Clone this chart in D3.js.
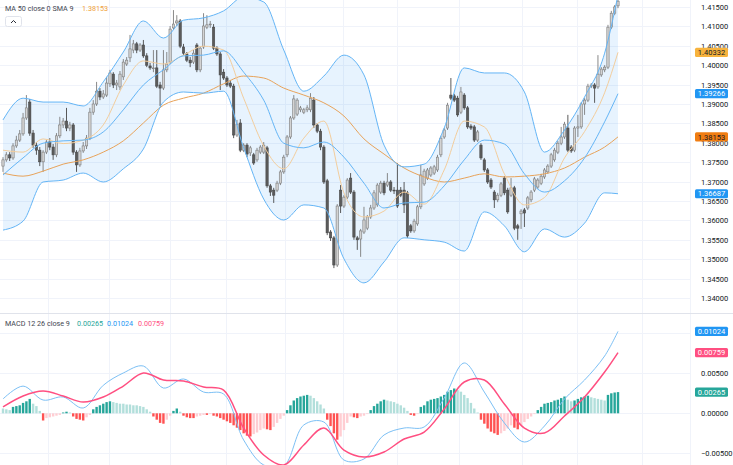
<!DOCTYPE html>
<html>
<head>
<meta charset="utf-8">
<script src="https://cdnjs.cloudflare.com/ajax/libs/d3/7.8.5/d3.min.js"></script>
<style>
body { margin: 0; background: #fff; }
text { font-family: Roboto, "Noto Sans", sans-serif; }
</style>
</head>
<body>
<svg id="chart" width="733" height="465"></svg>
<script>
'use strict';

// candles, oldest first
var opens = [
    1.3740, 1.3756, 1.3769, 1.3761, 1.3792, 1.3807, 1.3823, 1.3864, 1.3905, 1.3825,
    1.3794, 1.3781, 1.3751, 1.3776, 1.3802, 1.3789, 1.3769, 1.3818, 1.3846, 1.3856,
    1.3838, 1.3846, 1.3776, 1.3743, 1.3779, 1.3792, 1.3812, 1.3879, 1.3900, 1.3933,
    1.3918, 1.3923, 1.3952, 1.3977, 1.3949, 1.3944, 1.3970, 1.4003, 1.4019, 1.4039,
    1.4055, 1.4039, 1.4052, 1.4024, 1.3998, 1.3993, 1.3993, 1.3949, 1.3941, 1.3988,
    1.4008, 1.4096, 1.4109, 1.4114, 1.4047, 1.4029, 1.4013, 1.4008, 1.4052, 1.3988,
    1.4047, 1.4098, 1.4104, 1.4098, 1.4044, 1.4029, 1.3982, 1.3967, 1.3954, 1.3946,
    1.3820, 1.3851, 1.3781, 1.3794, 1.3774, 1.3769, 1.3756, 1.3776, 1.3776, 1.3787,
    1.3689, 1.3678, 1.3678, 1.3696, 1.3725, 1.3769, 1.3815, 1.3864, 1.3874, 1.3885,
    1.3879, 1.3885, 1.3885, 1.3910, 1.3846, 1.3830, 1.3789, 1.3702, 1.3570, 1.3555,
    1.3485, 1.3678, 1.3637, 1.3660, 1.3709, 1.3673, 1.3555, 1.3552, 1.3570, 1.3580,
    1.3609, 1.3632, 1.3640, 1.3673, 1.3696, 1.3691, 1.3699, 1.3678, 1.3678, 1.3678,
    1.3678, 1.3671, 1.3586, 1.3573, 1.3591, 1.3635, 1.3694, 1.3709, 1.3717, 1.3722,
    1.3730, 1.3769, 1.3815, 1.3838, 1.3923, 1.3921, 1.3915, 1.3879, 1.3923, 1.3890,
    1.3843, 1.3841, 1.3807, 1.3794, 1.3756, 1.3730, 1.3704, 1.3673, 1.3653, 1.3665,
    1.3709, 1.3678, 1.3665, 1.3684, 1.3586, 1.3617, 1.3627, 1.3632, 1.3653, 1.3678,
    1.3686, 1.3696, 1.3712, 1.3725, 1.3740, 1.3756, 1.3776, 1.3799, 1.3815, 1.3838,
    1.3789, 1.3781, 1.3838, 1.3841, 1.3900, 1.3910, 1.3946, 1.3949, 1.3944, 1.3975,
    1.3988, 1.3995, 1.4098, 1.4134, 1.4153
];
var highs = [
    1.3763, 1.3776, 1.3776, 1.3799, 1.3818, 1.3833, 1.3877, 1.3923, 1.3913, 1.3833,
    1.3802, 1.3789, 1.3781, 1.3807, 1.3812, 1.3797, 1.3825, 1.3867, 1.3864, 1.3890,
    1.3854, 1.3851, 1.3781, 1.3787, 1.3802, 1.3820, 1.3890, 1.3910, 1.3957, 1.3941,
    1.3936, 1.3970, 1.3988, 1.3982, 1.3962, 1.3985, 1.4016, 1.4021, 1.4078, 1.4065,
    1.4060, 1.4057, 1.4065, 1.4031, 1.4006, 1.4039, 1.4039, 1.3957, 1.4039, 1.4034,
    1.4101, 1.4142, 1.4129, 1.4119, 1.4055, 1.4034, 1.4021, 1.4039, 1.4057, 1.4049,
    1.4134, 1.4129, 1.4114, 1.4106, 1.4049, 1.4034, 1.3990, 1.3972, 1.3962, 1.3952,
    1.3859, 1.3861, 1.3799, 1.3799, 1.3792, 1.3774, 1.3787, 1.3794, 1.3802, 1.3792,
    1.3694, 1.3684, 1.3702, 1.3730, 1.3769, 1.3820, 1.3869, 1.3923, 1.3915, 1.3895,
    1.3890, 1.3897, 1.3928, 1.3918, 1.3851, 1.3836, 1.3794, 1.3707, 1.3575, 1.3560,
    1.3642, 1.3691, 1.3665, 1.3709, 1.3722, 1.3678, 1.3560, 1.3578, 1.3635, 1.3614,
    1.3640, 1.3678, 1.3696, 1.3702, 1.3702, 1.3722, 1.3704, 1.3686, 1.3748, 1.3686,
    1.3699, 1.3676, 1.3591, 1.3604, 1.3640, 1.3743, 1.3733, 1.3735, 1.3740, 1.3743,
    1.3769, 1.3818, 1.3838, 1.3903, 1.3967, 1.3926, 1.3921, 1.3944, 1.3928, 1.3895,
    1.3848, 1.3846, 1.3833, 1.3799, 1.3761, 1.3735, 1.3709, 1.3678, 1.3671, 1.3699,
    1.3714, 1.3684, 1.3709, 1.3689, 1.3591, 1.3629, 1.3632, 1.3663, 1.3678, 1.3712,
    1.3709, 1.3720, 1.3735, 1.3745, 1.3774, 1.3787, 1.3805, 1.3841, 1.3854, 1.3872,
    1.3794, 1.3843, 1.3872, 1.3905, 1.3915, 1.3952, 1.3954, 1.3954, 1.4026, 1.3995,
    1.4000, 1.4104, 1.4140, 1.4155, 1.4176
];
var lows = [
    1.3725, 1.3751, 1.3753, 1.3756, 1.3787, 1.3802, 1.3818, 1.3859, 1.3818, 1.3787,
    1.3769, 1.3740, 1.3725, 1.3771, 1.3781, 1.3756, 1.3763, 1.3812, 1.3838, 1.3830,
    1.3830, 1.3769, 1.3725, 1.3738, 1.3774, 1.3784, 1.3807, 1.3872, 1.3895, 1.3910,
    1.3913, 1.3918, 1.3944, 1.3941, 1.3936, 1.3936, 1.3962, 1.3998, 1.4008, 1.4031,
    1.4031, 1.4034, 1.4019, 1.3995, 1.3988, 1.3982, 1.3941, 1.3895, 1.3936, 1.3982,
    1.4003, 1.4091, 1.4101, 1.4044, 1.4026, 1.4008, 1.3995, 1.4003, 1.3982, 1.3982,
    1.4042, 1.4093, 1.4096, 1.4039, 1.4024, 1.3936, 1.3962, 1.3944, 1.3941, 1.3812,
    1.3815, 1.3776, 1.3776, 1.3763, 1.3766, 1.3743, 1.3751, 1.3771, 1.3771, 1.3684,
    1.3663, 1.3645, 1.3673, 1.3691, 1.3720, 1.3763, 1.3810, 1.3859, 1.3869, 1.3879,
    1.3874, 1.3879, 1.3879, 1.3838, 1.3825, 1.3781, 1.3694, 1.3562, 1.3547, 1.3477,
    1.3480, 1.3619, 1.3632, 1.3655, 1.3668, 1.3550, 1.3524, 1.3506, 1.3565, 1.3575,
    1.3604, 1.3627, 1.3635, 1.3668, 1.3665, 1.3686, 1.3673, 1.3668, 1.3632, 1.3660,
    1.3619, 1.3555, 1.3568, 1.3568, 1.3586, 1.3629, 1.3689, 1.3704, 1.3712, 1.3717,
    1.3725, 1.3763, 1.3810, 1.3833, 1.3910, 1.3905, 1.3867, 1.3874, 1.3885, 1.3836,
    1.3833, 1.3802, 1.3802, 1.3756, 1.3725, 1.3694, 1.3681, 1.3632, 1.3647, 1.3660,
    1.3665, 1.3617, 1.3660, 1.3575, 1.3550, 1.3578, 1.3583, 1.3627, 1.3647, 1.3673,
    1.3681, 1.3691, 1.3707, 1.3720, 1.3735, 1.3751, 1.3771, 1.3794, 1.3810, 1.3776,
    1.3774, 1.3776, 1.3815, 1.3836, 1.3872, 1.3905, 1.3941, 1.3903, 1.3939, 1.3970,
    1.3982, 1.3990, 1.4093, 1.4129, 1.4147
];
var closes = [
    1.3756, 1.3769, 1.3761, 1.3792, 1.3807, 1.3823, 1.3864, 1.3890, 1.3825, 1.3794,
    1.3781, 1.3751, 1.3776, 1.3802, 1.3789, 1.3769, 1.3818, 1.3846, 1.3856, 1.3838,
    1.3846, 1.3776, 1.3743, 1.3779, 1.3792, 1.3812, 1.3879, 1.3900, 1.3933, 1.3918,
    1.3926, 1.3954, 1.3980, 1.3949, 1.3954, 1.3977, 1.4008, 1.4013, 1.4042, 1.4055,
    1.4039, 1.4052, 1.4024, 1.4000, 1.3993, 1.3993, 1.3946, 1.3941, 1.3988, 1.4003,
    1.4093, 1.4106, 1.4114, 1.4049, 1.4031, 1.4013, 1.4006, 1.4031, 1.3988, 1.4044,
    1.4101, 1.4104, 1.4106, 1.4044, 1.4029, 1.3975, 1.3967, 1.3949, 1.3946, 1.3820,
    1.3848, 1.3781, 1.3794, 1.3771, 1.3787, 1.3748, 1.3781, 1.3789, 1.3794, 1.3689,
    1.3673, 1.3665, 1.3696, 1.3725, 1.3763, 1.3815, 1.3864, 1.3913, 1.3910, 1.3890,
    1.3885, 1.3890, 1.3915, 1.3846, 1.3830, 1.3789, 1.3699, 1.3568, 1.3555, 1.3485,
    1.3637, 1.3637, 1.3660, 1.3704, 1.3673, 1.3557, 1.3550, 1.3573, 1.3601, 1.3609,
    1.3632, 1.3671, 1.3691, 1.3696, 1.3671, 1.3699, 1.3678, 1.3676, 1.3637, 1.3665,
    1.3640, 1.3560, 1.3573, 1.3598, 1.3635, 1.3717, 1.3727, 1.3730, 1.3735, 1.3738,
    1.3763, 1.3812, 1.3833, 1.3897, 1.3915, 1.3910, 1.3872, 1.3931, 1.3890, 1.3841,
    1.3838, 1.3807, 1.3828, 1.3761, 1.3730, 1.3699, 1.3686, 1.3653, 1.3665, 1.3694,
    1.3671, 1.3622, 1.3684, 1.3580, 1.3580, 1.3624, 1.3619, 1.3658, 1.3673, 1.3707,
    1.3704, 1.3714, 1.3730, 1.3740, 1.3769, 1.3781, 1.3799, 1.3815, 1.3848, 1.3781,
    1.3779, 1.3838, 1.3841, 1.3900, 1.3910, 1.3946, 1.3949, 1.3941, 1.3977, 1.3990,
    1.3995, 1.4098, 1.4134, 1.4150, 1.4165
];

// indicator lines, read every 6th bar
var lineIdx = [0, 6, 12, 18, 24, 30, 36, 42, 48, 54, 60, 66, 72, 78, 84, 90,
    96, 102, 108, 114, 120, 126, 132, 138, 144, 150, 156, 162, 168, 174, 180, 184];
var bbUpper = [1.3859, 1.3915, 1.3905, 1.3905, 1.3895, 1.3957, 1.4034, 1.4114, 1.4070, 1.4116, 1.4122,
    1.4140, 1.4176, 1.4163, 1.4039, 1.3933, 1.3972, 1.4026, 1.3975, 1.3794, 1.3738,
    1.3745, 1.3838, 1.3993, 1.3980, 1.3980, 1.3931, 1.3776, 1.3833, 1.3918, 1.4031, 1.4181];
var bbBasis = [1.3717, 1.3761, 1.3799, 1.3805, 1.3807, 1.3828, 1.3885, 1.3949, 1.3988, 1.4024, 1.4026,
    1.4037, 1.3982, 1.3910, 1.3799, 1.3787, 1.3802, 1.3763, 1.3696, 1.3632, 1.3645,
    1.3647, 1.3689, 1.3756, 1.3807, 1.3797, 1.3720, 1.3673, 1.3702, 1.3761, 1.3854, 1.39266];
var bbLower = [1.3575, 1.3598, 1.3699, 1.3704, 1.3722, 1.3699, 1.3733, 1.3784, 1.3905, 1.3931, 1.3928,
    1.3933, 1.3787, 1.3655, 1.3601, 1.3640, 1.3632, 1.3501, 1.3439, 1.3493, 1.3555,
    1.3550, 1.3544, 1.3521, 1.3622, 1.3586, 1.3519, 1.3578, 1.3557, 1.3593, 1.3671, 1.36687];
var ma50 = [1.3722, 1.3714, 1.3727, 1.3745, 1.3756, 1.3776, 1.3805, 1.3851, 1.3897, 1.3915, 1.3928,
    1.3952, 1.3972, 1.3967, 1.3941, 1.3923, 1.3903, 1.3869, 1.3810, 1.3771, 1.3735,
    1.3712, 1.3699, 1.3709, 1.3720, 1.3712, 1.3714, 1.3720, 1.3735, 1.3763, 1.3789, 1.38153];
var fastMa = [1.3781, 1.3776, 1.3810, 1.3798, 1.3807, 1.3846, 1.3949, 1.4011, 1.4003, 1.4026, 1.4049,
    1.4039, 1.3915, 1.3792, 1.3733, 1.3812, 1.3856, 1.3671, 1.3609, 1.3624, 1.3673,
    1.3642, 1.3730, 1.3856, 1.3841, 1.3720, 1.3640, 1.3659, 1.3761, 1.3829, 1.3929, 1.40332];

// MACD 12 26 9
var macdLine = [0.00179, 0.00340, 0.00166, 0.00204, 0.00066, 0.00350, 0.00504, 0.00591, 0.00316, 0.00429, 0.00266,
    0.00241, -0.00334, -0.00646, -0.00659, -0.00146, -0.00109, -0.00584, -0.00571, -0.00271, -0.00184,
    -0.00171, 0.00191, 0.00629, 0.00266, -0.00121, -0.00359, -0.00159, 0.00179, 0.00416, 0.00716, 0.01024];
var signalLine = [0.00079, 0.00216, 0.00279, 0.00216, 0.00141, 0.00204, 0.00341, 0.00504, 0.00416, 0.00404, 0.00329,
    0.00291, -0.00184, -0.00521, -0.00646, -0.00396, -0.00184, -0.00459, -0.00546, -0.00484, -0.00321,
    -0.00234, 0.00054, 0.00391, 0.00416, 0.00116, -0.00184, -0.00246, -0.00034, 0.00204, 0.00516, 0.00759];
var histogram = [
    0.0006, 0.0005, 0.0004, 0.0008, 0.0009, 0.0010, 0.0013, 0.0015, 0.0018, 0.0012,
    0.0009, 0.0003, -0.0009, -0.0006, -0.0005, -0.0004, -0.0003, -0.0002, 0.0001, 0.0002,
    0.0001, -0.0004, -0.0007, -0.0008, -0.0009, -0.0005, -0.0002, 0.0005, 0.0008, 0.0010,
    0.0012, 0.0014, 0.0015, 0.0014, 0.0013, 0.0012, 0.0012, 0.0011, 0.0011, 0.0010,
    0.0010, 0.0009, 0.0008, 0.0005, 0.0002, -0.0004, -0.0008, -0.0012, -0.0013, -0.0008,
    -0.0003, 0.0003, 0.0006, 0.0002, -0.0003, -0.0005, -0.0006, -0.0006, -0.0004, -0.0003,
    -0.0002, -0.0002, -0.0001, -0.0003, -0.0004, -0.0006, -0.0008, -0.0010, -0.0012, -0.0015,
    -0.0018, -0.0021, -0.0025, -0.0028, -0.0029, -0.0026, -0.0024, -0.0021, -0.0019, -0.0020,
    -0.0021, -0.0017, -0.0012, -0.0007, -0.0003, 0.0004, 0.0010, 0.0016, 0.0019, 0.0021,
    0.0022, 0.0023, 0.0022, 0.0019, 0.0015, 0.0011, 0.0006, -0.0008, -0.0016, -0.0025,
    -0.0033, -0.0029, -0.0021, -0.0012, -0.0004, -0.0005, -0.0006, -0.0004, -0.0003, -0.0001,
    0.0004, 0.0009, 0.0012, 0.0015, 0.0017, 0.0016, 0.0015, 0.0014, 0.0012, 0.0010,
    0.0007, 0.0003, -0.0002, -0.0003, -0.0001, 0.0008, 0.0010, 0.0015, 0.0017, 0.0018,
    0.0019, 0.0021, 0.0023, 0.0027, 0.0029, 0.0031, 0.0029, 0.0027, 0.0023, 0.0019,
    0.0013, 0.0006, 0.0001, -0.0008, -0.0013, -0.0019, -0.0023, -0.0025, -0.0027, -0.0025,
    -0.0022, -0.0019, -0.0015, -0.0018, -0.0020, -0.0015, -0.0011, -0.0007, -0.0004, -0.0001,
    0.0004, 0.0008, 0.0012, 0.0013, 0.0014, 0.0016, 0.0017, 0.0019, 0.0021, 0.0017,
    0.0015, 0.0016, 0.0018, 0.0020, 0.0021, 0.0022, 0.0020, 0.0019, 0.0018, 0.0017,
    0.0016, 0.0023, 0.0025, 0.0026, 0.00265
];

var priceTicks = [1.340, 1.345, 1.350, 1.355, 1.360, 1.365, 1.370, 1.375,
    1.380, 1.385, 1.390, 1.395, 1.400, 1.405, 1.410, 1.415];
var macdGridTicks = [-0.005, 0, 0.005, 0.010];
var macdLabelTicks = [-0.005, 0, 0.005];
// time grid, in bar units
var timeGrid = [13.5, 31.7, 50, 66.7, 84.4, 101.7, 117.9, 136.4, 155.3, 171.7, 191.2, 205.6];

var W = 733, H = 465;
var paneRight = 690;
var svg = d3.select('#chart');
svg.append('rect').attr('width', W).attr('height', H).attr('fill', '#ffffff');

var x = d3.scaleLinear().domain([0, closes.length - 1]).range([3, 618]);
var yPrice = d3.scaleLinear().domain([1.34, 1.415]).range([298, 7]);
var yMacd = d3.scaleLinear().domain([-0.005, 0.01]).range([453.3, 333.3]);

var defs = svg.append('defs');
defs.append('clipPath').attr('id', 'clipMain')
    .append('rect').attr('x', 0).attr('y', 0).attr('width', paneRight).attr('height', 312);
defs.append('clipPath').attr('id', 'clipMacd')
    .append('rect').attr('x', 0).attr('y', 314).attr('width', paneRight).attr('height', 151);

// grid
var grid = svg.append('g').attr('stroke', '#f0f3fa').attr('stroke-width', 1);
grid.selectAll('.hp').data(priceTicks).enter().append('line')
    .attr('x1', 0).attr('x2', paneRight)
    .attr('y1', function(d) { return Math.round(yPrice(d)) + 0.5; })
    .attr('y2', function(d) { return Math.round(yPrice(d)) + 0.5; });
grid.selectAll('.hm').data(macdGridTicks).enter().append('line')
    .attr('x1', 0).attr('x2', paneRight)
    .attr('y1', function(d) { return Math.round(yMacd(d)) + 0.5; })
    .attr('y2', function(d) { return Math.round(yMacd(d)) + 0.5; });
grid.selectAll('.vt').data(timeGrid).enter().append('line')
    .attr('y1', 0).attr('y2', H)
    .attr('x1', function(d) { return Math.round(x(d)) + 0.5; })
    .attr('x2', function(d) { return Math.round(x(d)) + 0.5; });

// pane separator
svg.append('line').attr('x1', 0).attr('x2', W).attr('y1', 313.5).attr('y2', 313.5)
    .attr('stroke', '#e0e3eb');

var main = svg.append('g').attr('clip-path', 'url(#clipMain)');

// bollinger fill
var bandArea = d3.area()
    .x(function(d, k) { return x(lineIdx[k]); })
    .y0(function(d, k) { return yPrice(bbLower[k]); })
    .y1(function(d) { return yPrice(d); })
    .curve(d3.curveMonotoneX);
main.append('path').datum(bbUpper).attr('d', bandArea)
    .attr('fill', 'rgba(33,150,243,0.11)');

// candles
var up = '#d3d3d3', upLine = '#7c7c7c', down = '#5b5b5b', downLine = '#474747';
var bw = 2.3;
var candles = main.append('g').selectAll('g').data(closes).enter().append('g');
candles.append('line')
    .attr('x1', function(d, i) { return x(i); })
    .attr('x2', function(d, i) { return x(i); })
    .attr('y1', function(d, i) { return yPrice(highs[i]); })
    .attr('y2', function(d, i) { return yPrice(lows[i]); })
    .attr('stroke', function(d, i) { return d >= opens[i] ? upLine : downLine; })
    .attr('stroke-width', 0.9);
candles.append('rect')
    .attr('x', function(d, i) { return x(i) - bw / 2; })
    .attr('width', bw)
    .attr('y', function(d, i) { return yPrice(Math.max(d, opens[i])); })
    .attr('height', function(d, i) {
        return Math.max(0.8, Math.abs(yPrice(d) - yPrice(opens[i])));
    })
    .attr('fill', function(d, i) { return d >= opens[i] ? up : down; })
    .attr('stroke', function(d, i) { return d >= opens[i] ? upLine : downLine; })
    .attr('stroke-width', 0.6);

// indicator lines
function priceLine(vals, color, width) {
    var gen = d3.line()
        .x(function(d, k) { return x(lineIdx[k]); })
        .y(function(d) { return yPrice(d); })
        .curve(d3.curveMonotoneX);
    main.append('path').datum(vals).attr('d', gen)
        .attr('fill', 'none').attr('stroke', color).attr('stroke-width', width);
}
priceLine(ma50, '#e8a35a', 1);
priceLine(fastMa, '#f3cd9c', 1);
priceLine(bbBasis, '#64b5f6', 1);
priceLine(bbUpper, '#64b5f6', 1);
priceLine(bbLower, '#64b5f6', 1);

// MACD pane
var macdG = svg.append('g').attr('clip-path', 'url(#clipMacd)');
function histColor(v, i) {
    var prev = i > 0 ? histogram[i - 1] : v;
    if (v >= 0) return prev < v ? '#26a69a' : '#b2dfdb';
    return prev < v ? '#ffcdd2' : '#ff5252';
}
macdG.selectAll('rect.h').data(histogram).enter().append('rect')
    .attr('x', function(d, i) { return x(i) - 1.2; })
    .attr('width', 2.4)
    .attr('y', function(d) { return Math.min(yMacd(d), yMacd(0)); })
    .attr('height', function(d) { return Math.abs(yMacd(d) - yMacd(0)); })
    .attr('fill', histColor);

function macdPath(vals, color, width) {
    var gen = d3.line()
        .x(function(d, k) { return x(lineIdx[k]); })
        .y(function(d) { return yMacd(d); })
        .curve(d3.curveCatmullRom.alpha(0.5));
    macdG.append('path').datum(vals).attr('d', gen)
        .attr('fill', 'none').attr('stroke', color).attr('stroke-width', width);
}
macdPath(macdLine, '#7cc0f5', 1);
macdPath(signalLine, '#ff4f81', 1.5);

// axes
var fmt = d3.format('.5f');
var priceAxis = d3.axisRight(yPrice).tickValues(priceTicks).tickFormat(fmt)
    .tickSize(0).tickPadding(0);
var pa = svg.append('g').attr('transform', 'translate(701,0)').call(priceAxis);
var macdAxis = d3.axisRight(yMacd).tickValues(macdLabelTicks)
    .tickFormat(function(d) { return fmt(d).replace('-', '\u2212'); })
    .tickSize(0).tickPadding(0);
var ma = svg.append('g').attr('transform', 'translate(701,0)').call(macdAxis);
[pa, ma].forEach(function(a) {
    a.select('.domain').remove();
    a.selectAll('text').attr('font-size', 7.5).attr('fill', '#131722')
        .attr('font-family', 'Roboto, sans-serif');
});

// last value tags
function valueTag(y, text, bg, fg) {
    var g = svg.append('g');
    g.append('rect').attr('x', 695).attr('y', y - 4.6).attr('width', 33).attr('height', 9.2)
        .attr('rx', 1.5).attr('fill', bg);
    g.append('text').attr('x', 711.5).attr('y', y + 2.7).attr('text-anchor', 'middle')
        .attr('font-size', 7.5).attr('fill', fg).text(text);
}
var last = lineIdx.length - 1;
valueTag(yPrice(fastMa[last]), fmt(fastMa[last]), '#f7b33d', '#131722');
valueTag(yPrice(bbBasis[last]), fmt(bbBasis[last]), '#2196f3', '#ffffff');
valueTag(yPrice(ma50[last]), fmt(ma50[last]), '#f07d12', '#131722');
valueTag(yPrice(bbLower[last]), fmt(bbLower[last]), '#2196f3', '#ffffff');
valueTag(yMacd(macdLine[last]), fmt(macdLine[last]), '#2196f3', '#ffffff');
valueTag(yMacd(signalLine[last]), fmt(signalLine[last]), '#ff4f81', '#ffffff');
valueTag(yMacd(histogram[histogram.length - 1]), fmt(histogram[histogram.length - 1]), '#26a69a', '#ffffff');

// legends
var lg = svg.append('text').attr('x', 5).attr('y', 11).attr('font-size', 7.2).attr('fill', '#434651');
lg.append('tspan').text('MA 50 close 0 SMA 9');
lg.append('tspan').attr('x', 82).attr('fill', '#f0a23a').text(fmt(ma50[last]));

svg.append('rect').attr('x', 5.5).attr('y', 16.5).attr('width', 16).attr('height', 10)
    .attr('rx', 2).attr('fill', '#fff').attr('stroke', '#e0e3eb');
svg.append('path').attr('d', 'M11,23 L13.5,20.5 L16,23').attr('fill', 'none')
    .attr('stroke', '#131722').attr('stroke-width', 0.9);

var ml = svg.append('text').attr('x', 5).attr('y', 326).attr('font-size', 7.2).attr('fill', '#434651');
ml.append('tspan').text('MACD 12 26 close 9');
ml.append('tspan').attr('x', 77).attr('fill', '#26a69a').text(fmt(histogram[histogram.length - 1]));
ml.append('tspan').attr('x', 107).attr('fill', '#2196f3').text(fmt(macdLine[last]));
ml.append('tspan').attr('x', 138).attr('fill', '#ff4f81').text(fmt(signalLine[last]));
</script>
</body>
</html>
